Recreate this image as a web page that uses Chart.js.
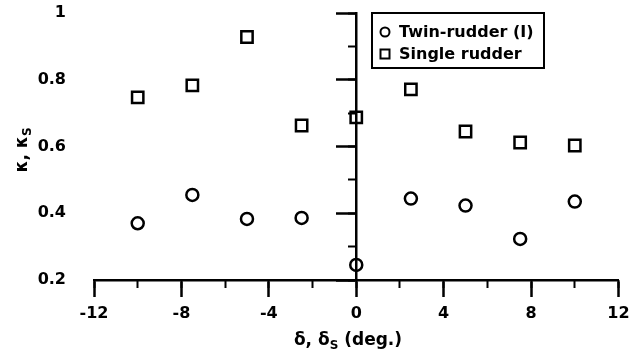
<!DOCTYPE html>
<html>
<head>
<meta charset="utf-8">
<script src="https://cdn.jsdelivr.net/npm/chart.js@4/dist/chart.umd.min.js"></script>
<style>
  html, body { margin: 0; padding: 0; background: #fff; }
  #wrap { width: 629px; height: 353px; }
</style>
</head>
<body>
<div id="wrap"><canvas id="chart" width="629" height="353"></canvas></div>
<script>
// rudder angle (deg.)
const deflection = [-10, -7.5, -5, -2.5, 0, 2.5, 5, 7.5, 10];
// kappa, twin-rudder (I)
const twinKappa = [0.37, 0.455, 0.383, 0.386, 0.245, 0.444, 0.423, 0.323, 0.435];
// kappa_s, single rudder
const singleKappa = [0.747, 0.783, 0.928, 0.663, 0.687, 0.771, 0.645, 0.612, 0.603];
const seriesNames = ["Twin-rudder (I)", "Single rudder"];
const xRange = [-12, 12];
const yRange = [0.2, 1];

const FONT = "'DejaVu Sans', sans-serif";
const tickFont = { family: FONT, size: 16, weight: 'bold' };

function pts(ys) {
  return deflection.map((x, i) => ({ x: x, y: ys[i] }));
}

/* titles with subscripts and the boxed legend */
const extras = {
  id: 'extras',
  afterDraw(chart) {
    const ctx = chart.ctx;
    ctx.save();
    ctx.fillStyle = '#000';
    ctx.strokeStyle = '#000';

    // x title: δ, δS (deg.)
    const big = 'bold 17px ' + FONT, small = 'bold 12px ' + FONT;
    ctx.font = big;
    const a = 'δ, δ', c = ' (deg.)';
    const wa = ctx.measureText(a).width, wc = ctx.measureText(c).width;
    ctx.font = small;
    const wb = ctx.measureText('S').width;
    let x = 348 - (wa + wb + wc) / 2;
    ctx.textBaseline = 'alphabetic';
    ctx.textAlign = 'left';
    ctx.font = big; ctx.fillText(a, x, 345); x += wa;
    ctx.font = small; ctx.fillText('S', x, 349); x += wb;
    ctx.font = big; ctx.fillText(c, x, 345);

    // y title: κ, κS
    ctx.save();
    ctx.translate(27, 150);
    ctx.rotate(-Math.PI / 2);
    ctx.font = big;
    const ya = 'κ, κ';
    const wya = ctx.measureText(ya).width;
    ctx.font = small;
    const wyb = ctx.measureText('S').width;
    let yx = -(wya + wyb) / 2;
    ctx.font = big; ctx.fillText(ya, yx, 0); yx += wya;
    ctx.font = small; ctx.fillText('S', yx, 4);
    ctx.restore();

    // legend
    ctx.lineWidth = 2;
    ctx.strokeRect(372, 13, 172, 55);
    ctx.font = 'bold 16px ' + FONT;
    ctx.textBaseline = 'middle';
    ctx.beginPath();
    ctx.arc(385, 32, 4.5, 0, Math.PI * 2);
    ctx.stroke();
    ctx.strokeRect(380.5, 49.5, 9, 9);
    ctx.fillText(chart.data.datasets[0].label, 399, 33);
    ctx.fillText(chart.data.datasets[1].label, 399, 55);
    ctx.restore();
  }
};

new Chart(document.getElementById('chart'), {
  type: 'scatter',
  data: {
    datasets: [
      {
        label: seriesNames[0],
        data: pts(twinKappa),
        pointStyle: 'circle',
        pointRadius: 6,
        borderWidth: 2.5,
        borderColor: '#000',
        backgroundColor: 'rgba(0,0,0,0)'
      },
      {
        label: seriesNames[1],
        data: pts(singleKappa),
        pointStyle: 'rect',
        pointRadius: 8,
        borderWidth: 2.5,
        borderColor: '#000',
        backgroundColor: 'rgba(0,0,0,0)'
      }
    ]
  },
  options: {
    responsive: false,
    animation: false,
    layout: { padding: { top: 13, right: 9, left: 0, bottom: 0 } },
    plugins: { legend: { display: false }, tooltip: { enabled: false } },
    scales: {
      x: {
        type: 'linear', position: 'bottom',
        min: xRange[0], max: xRange[1],
        ticks: { stepSize: 4, color: '#000', font: tickFont, padding: 7, maxRotation: 0 },
        grid: { drawOnChartArea: false, tickLength: 17, tickColor: '#000', tickWidth: 2.5 },
        border: { color: '#000', width: 2.5 },
        afterFit: s => { s.height = 73; s.paddingLeft = 0; s.paddingRight = 0; }
      },
      xMinor: {
        type: 'linear', axis: 'x', position: { y: yRange[0] },
        min: xRange[0], max: xRange[1],
        ticks: { stepSize: 2, display: false },
        grid: { drawOnChartArea: false, tickLength: 8, tickColor: '#000', tickWidth: 2 },
        border: { display: false }
      },
      y: {
        type: 'linear', position: 'left',
        min: yRange[0], max: yRange[1],
        ticks: {
          stepSize: 0.2, color: '#000', font: tickFont, padding: 0,
          callback: v => String(Number(v.toFixed(1)))
        },
        grid: { display: false, drawTicks: true, tickLength: 28 },
        border: { display: false },
        afterFit: s => { s.width = 94; s.paddingTop = 0; s.paddingBottom = 0; }
      },
      yMajor: {
        type: 'linear', axis: 'y', position: { x: 0 },
        min: yRange[0], max: yRange[1],
        ticks: { stepSize: 0.2, display: false },
        grid: { drawOnChartArea: false, tickLength: 19, tickColor: '#000', tickWidth: 2.5 },
        border: { color: '#000', width: 2.5 }
      },
      yMinor: {
        type: 'linear', axis: 'y', position: { x: 0 },
        min: yRange[0], max: yRange[1],
        ticks: { stepSize: 0.1, display: false },
        grid: { drawOnChartArea: false, tickLength: 8, tickColor: '#000', tickWidth: 2 },
        border: { display: false }
      }
    }
  },
  plugins: [extras]
});
</script>
</body>
</html>
